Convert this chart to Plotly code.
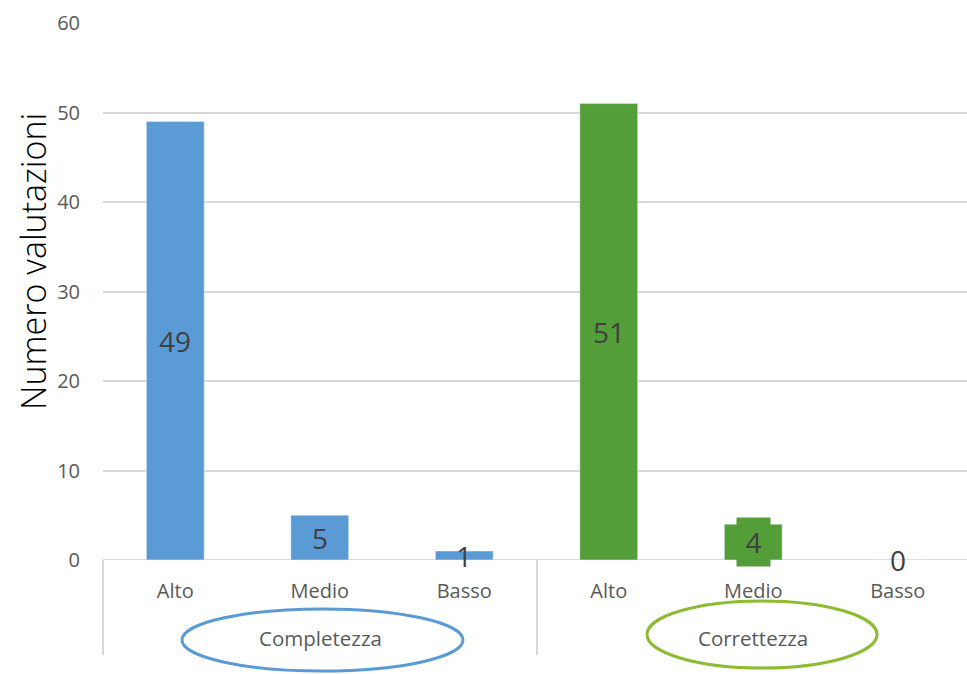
import plotly.graph_objects as go

# Valutazioni raggruppate per criterio
livelli = ["Alto", "Medio", "Basso"]
gruppi = ["Completezza", "Correttezza"]
completezza = [49, 5, 1]
correttezza = [51, 4, 0]

BLU = "#5b9bd5"
VERDE = "#549e39"
GRIGIO = "#d9d9d9"
TESTO = "#595959"
FONT = "Open Sans"

x_blu = [0, 1, 2]
x_verde = [3, 4, 5]

fig = go.Figure()
fig.add_trace(go.Bar(x=x_blu, y=completezza, marker_color=BLU, width=0.4,
                     hoverinfo="skip", showlegend=False))
fig.add_trace(go.Bar(x=x_verde, y=correttezza, marker_color=VERDE, width=0.4,
                     hoverinfo="skip", showlegend=False))

# etichette dei valori al centro delle barre
annotations = []
for xs, vals in ((x_blu, completezza), (x_verde, correttezza)):
    for xi, v in zip(xs, vals):
        ann = dict(x=xi, y=v / 2, xref="x", yref="y", text=str(v),
                   showarrow=False, xanchor="center", yanchor="middle",
                   font=dict(family=FONT, size=28, color="#404040"))
        if xi == 4:
            ann.update(bgcolor=VERDE, width=33, height=48, borderpad=0)
        annotations.append(ann)

W = 864.0  # larghezza area del grafico in pixel
H = 537.0

def px_x(p):
    return (p - 103) / W

def px_y(p):
    return (560 - p) / H

# etichette dei gruppi
for testo, cx, cy in ((gruppi[0], 320, 638), (gruppi[1], 753, 638)):
    annotations.append(dict(x=px_x(cx), y=px_y(cy), xref="paper", yref="paper",
                            text=testo, showarrow=False,
                            xanchor="center", yanchor="middle",
                            font=dict(family=FONT, size=20.5, color=TESTO)))

# titolo asse y
annotations.append(dict(x=px_x(33), y=px_y(262), xref="paper", yref="paper",
                        text="Numero valutazioni", textangle=-90, showarrow=False,
                        xanchor="center", yanchor="middle",
                        font=dict(family=FONT, size=34, color="#000000", weight=300)))

shapes = [dict(type="line", xref="paper", yref="y", x0=0, x1=1, y0=0, y1=0,
               layer="below", line=dict(color=GRIGIO, width=2))]
for xp in (103, 537, 968):
    shapes.append(dict(type="line", xref="paper", yref="paper",
                       x0=px_x(xp), x1=px_x(xp), y0=px_y(560), y1=px_y(655),
                       line=dict(color=GRIGIO, width=2)))
shapes.append(dict(type="circle", xref="paper", yref="paper",
                   x0=px_x(182), x1=px_x(463), y0=px_y(609), y1=px_y(671),
                   line=dict(color=BLU, width=3)))
shapes.append(dict(type="circle", xref="paper", yref="paper",
                   x0=px_x(647), x1=px_x(877), y0=px_y(601), y1=px_y(668),
                   line=dict(color="#8dbb34", width=3)))

fig.update_layout(
    width=967, height=674,
    margin=dict(l=103, r=0, t=23, b=114, autoexpand=False),
    paper_bgcolor="white", plot_bgcolor="white",
    annotations=annotations, shapes=shapes,
    xaxis=dict(range=[-0.5, 5.5 - 3 / 144.5], tickvals=x_blu + x_verde,
               ticktext=livelli + livelli, showgrid=False, zeroline=False,
               showline=False, ticks="outside", ticklen=13,
               tickcolor="rgba(0,0,0,0)",
               tickfont=dict(family=FONT, size=20, color=TESTO)),
    yaxis=dict(range=[0, 60], dtick=10, showgrid=True, gridcolor=GRIGIO,
               gridwidth=2, zeroline=False, showline=False, ticks="outside",
               ticklen=18, tickcolor="rgba(0,0,0,0)",
               tickfont=dict(family=FONT, size=20, color=TESTO)),
)

fig.write_html("out.html")
